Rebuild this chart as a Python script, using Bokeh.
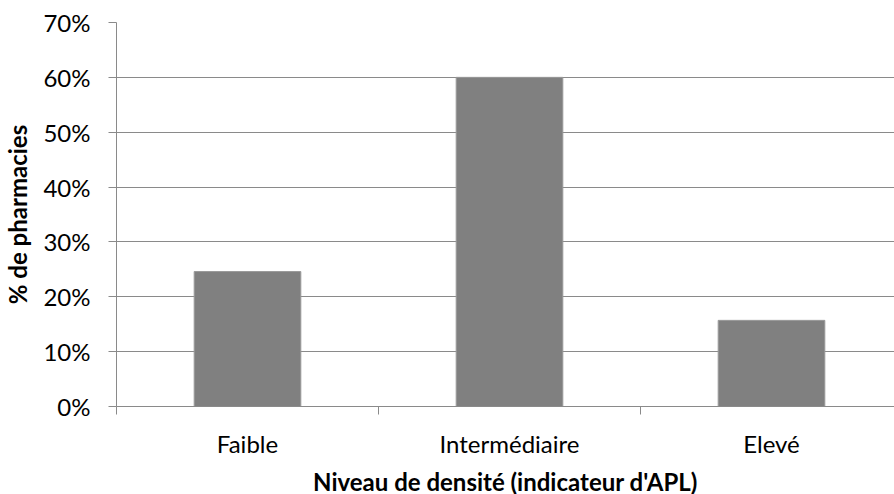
from bokeh.plotting import figure
from bokeh.models import Range1d, FixedTicker, PrintfTickFormatter, ColumnDataSource
from bokeh.embed import file_html
from bokeh.resources import INLINE

categories = ["Faible", "Intermédiaire", "Elevé"]
values = [24.6, 60.0, 15.7]
y_ticks = [0, 10, 20, 30, 40, 50, 60, 70]

positions = [i + 0.5 for i in range(len(categories))]
src = ColumnDataSource(dict(x=positions, top=values))

FONT = "Lato"
GRAY = "#8a8a8a"

p = figure(frame_width=778, frame_height=384, output_backend="svg", toolbar_location=None,
           x_range=Range1d(0, 778 / 262), y_range=Range1d(0, 70),
           min_border_left=108, min_border_right=0, min_border_top=22, min_border_bottom=70)
p.outline_line_color = None
p.background_fill_color = "white"
p.border_fill_color = "white"

p.vbar(x="x", top="top", width=0.407, bottom=0, source=src,
       fill_color="#808080", line_color="#9a9a9a", line_width=1)

# y axis
p.yaxis.ticker = FixedTicker(ticks=y_ticks)
p.yaxis.formatter = PrintfTickFormatter(format="%d%%")
p.yaxis.axis_line_color = GRAY
p.yaxis.major_tick_line_color = GRAY
p.yaxis.major_tick_out = 8
p.yaxis.major_tick_in = 0
p.yaxis.minor_tick_line_color = None
p.yaxis.major_label_standoff = 18
p.yaxis.major_label_text_font = FONT
p.yaxis.major_label_text_font_size = "24px"
p.yaxis.major_label_text_color = "black"
p.yaxis.axis_label = "% de pharmacies"
p.yaxis.axis_label_text_font = FONT
p.yaxis.axis_label_text_font_style = "bold"
p.yaxis.axis_label_text_font_size = "24px"
p.yaxis.axis_label_text_color = "black"
p.yaxis.axis_label_standoff = 8

# x axis
p.xaxis.ticker = FixedTicker(ticks=positions, minor_ticks=list(range(len(categories) + 1)))
p.xaxis.major_label_overrides = {pos: cat for pos, cat in zip(positions, categories)}
p.xaxis.axis_line_color = GRAY
p.xaxis.major_tick_line_color = None
p.xaxis.major_tick_out = 0
p.xaxis.major_tick_in = 0
p.xaxis.minor_tick_line_color = GRAY
p.xaxis.minor_tick_out = 8
p.xaxis.minor_tick_in = 0
p.xaxis.major_label_standoff = 14
p.xaxis.major_label_text_font = FONT
p.xaxis.major_label_text_font_size = "24px"
p.xaxis.major_label_text_color = "black"
p.xaxis.axis_label = "Niveau de densité (indicateur d'APL)"
p.xaxis.axis_label_text_font = FONT
p.xaxis.axis_label_text_font_style = "bold"
p.xaxis.axis_label_text_font_size = "24px"
p.xaxis.axis_label_text_color = "black"
p.xaxis.axis_label_standoff = 6

p.xgrid.grid_line_color = None
p.ygrid.grid_line_color = GRAY
p.ygrid.grid_line_width = 1

open("out.html", "w").write(file_html(p, INLINE))
